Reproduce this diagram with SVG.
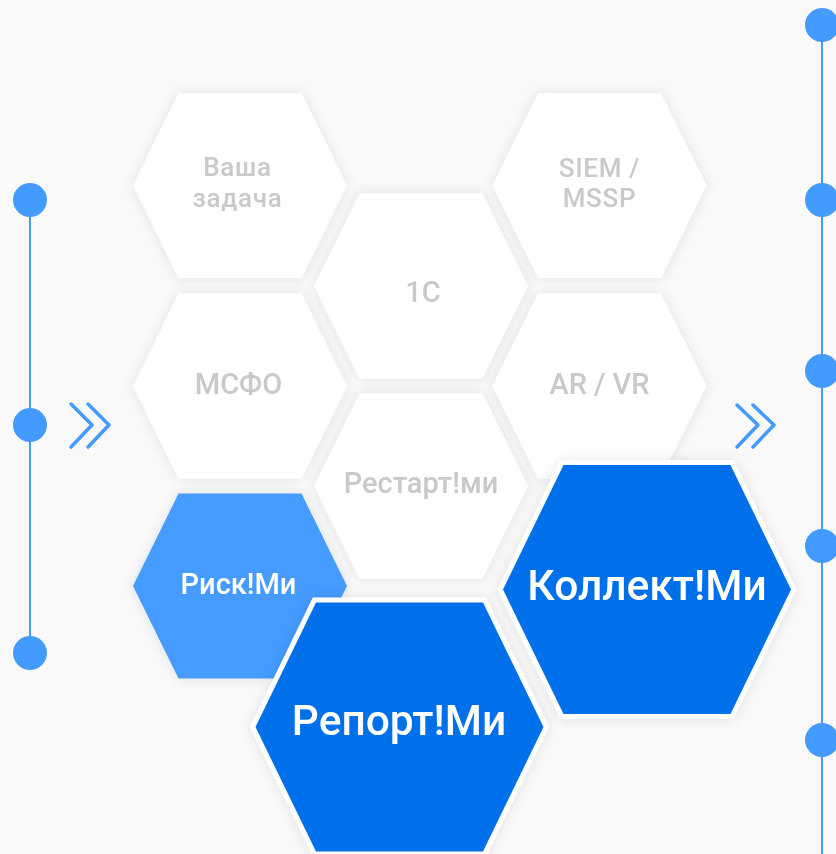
<svg xmlns="http://www.w3.org/2000/svg" xmlns:xlink="http://www.w3.org/1999/xlink" width="836" height="854" viewBox="0 0 836 854">
<style>
.bg{fill:#f9f9f9}
.hexw{fill:#ffffff}
.hexl{fill:#449bff}
.hexb{fill:#0070ea;stroke:#ffffff;stroke-width:10;paint-order:stroke;stroke-linejoin:miter}
.tg{font-family:Roboto,"Liberation Sans",sans-serif;font-weight:500;font-size:29px;fill:#c9c9c9;text-anchor:middle}
.tg2{font-size:26px;letter-spacing:0.7px}
.tw{font-family:Roboto,"Liberation Sans",sans-serif;font-weight:500;font-size:29px;fill:#ffffff;text-anchor:middle}
.tb{font-family:Roboto,"Liberation Sans",sans-serif;font-weight:500;font-size:42.5px;fill:#ffffff;text-anchor:middle}
.line{stroke:#449bff;stroke-width:2;fill:none}
.dot{fill:#449bff}
.chev{stroke:#449bff;stroke-width:3.5;fill:none;stroke-linecap:round;stroke-linejoin:round}
</style>
<defs>
<polygon id="hs" points="-107,0 -61.5,-92.5 61.5,-92.5 107,0 61.5,92.5 -61.5,92.5"/>
<polygon id="hl" points="-144,0 -83.5,-124.5 83.5,-124.5 144,0 83.5,124.5 -83.5,124.5"/>
<filter id="sh" x="-20%" y="-20%" width="140%" height="140%">
<feDropShadow dx="0" dy="0" stdDeviation="6" flood-color="#000" flood-opacity="0.1"/>
</filter>
</defs>
<rect class="bg" x="0" y="0" width="836" height="854"/>

<g id="connectors">
<line class="line" x1="30" y1="200" x2="30" y2="653"/>
<line class="line" x1="822" y1="25" x2="822" y2="854"/>
<polyline class="chev" points="71,404 92,425 71,447"/>
<polyline class="chev" points="88,404 109,425 88,447"/>
<polyline class="chev" points="737,405 758,425 737,447"/>
<polyline class="chev" points="753,405 774,425 753,447"/>
</g>

<g id="dots">
<circle class="dot" cx="30" cy="200" r="17"/>
<circle class="dot" cx="30" cy="425" r="17"/>
<circle class="dot" cx="30" cy="653" r="17"/>
<circle class="dot" cx="822" cy="25" r="17"/>
<circle class="dot" cx="822" cy="200" r="17"/>
<circle class="dot" cx="822" cy="371" r="17"/>
<circle class="dot" cx="822" cy="546" r="17"/>
<circle class="dot" cx="822" cy="740" r="17"/>
</g>

<g id="hex-vasha" filter="url(#sh)">
<use xlink:href="#hs" href="#hs" class="hexw" x="240" y="185.5"/>
<text class="tg tg2" x="237.5" y="176">Ваша<tspan x="237.5" y="206.6">задача</tspan></text>
</g>
<g id="hex-siem" filter="url(#sh)">
<use xlink:href="#hs" href="#hs" class="hexw" x="599.5" y="185.5"/>
<text class="tg tg2" x="599.5" y="176.5">SIEM /<tspan x="599.5" y="207.1">MSSP</tspan></text>
</g>
<g id="hex-1c" filter="url(#sh)">
<use xlink:href="#hs" href="#hs" class="hexw" x="421" y="286"/>
<text class="tg" x="423" y="301.5">1C</text>
</g>
<g id="hex-msfo" filter="url(#sh)">
<use xlink:href="#hs" href="#hs" class="hexw" x="240" y="386"/>
<text class="tg" x="238.5" y="393.5">МСФО</text>
</g>
<g id="hex-arvr" filter="url(#sh)">
<use xlink:href="#hs" href="#hs" class="hexw" x="599.5" y="386"/>
<text class="tg" x="599.5" y="393.5">AR / VR</text>
</g>
<g id="hex-restart" filter="url(#sh)">
<use xlink:href="#hs" href="#hs" class="hexw" x="421" y="486"/>
<text class="tg" x="421" y="493">Рестарт!ми</text>
</g>
<g id="hex-risk" filter="url(#sh)">
<use xlink:href="#hs" href="#hs" class="hexl" x="240" y="586"/>
<text class="tw" x="238.5" y="593.5">Риск!Ми</text>
</g>
<g id="hex-collect" filter="url(#sh)">
<use xlink:href="#hl" href="#hl" class="hexb" x="647" y="589.5"/>
<text class="tb" x="647" y="599.5">Коллект!Ми</text>
</g>
<g id="hex-report" filter="url(#sh)">
<use xlink:href="#hl" href="#hl" class="hexb" x="399.5" y="727"/>
<text class="tb" x="399" y="734.5">Репорт!Ми</text>
</g>
</svg>
